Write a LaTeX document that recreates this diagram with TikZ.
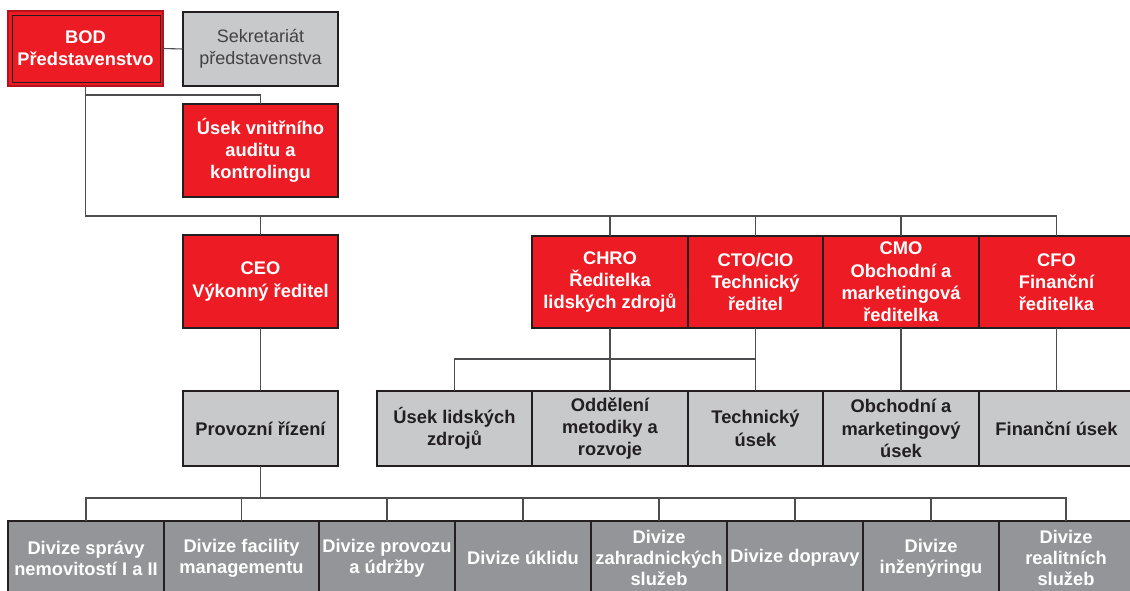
\documentclass[tikz,border=0pt]{standalone}
\usepackage{fontspec}
\setmainfont{Liberation Sans}
\definecolor{orgred}{HTML}{ED1C24}
\definecolor{darkred}{HTML}{B5121B}
\definecolor{lightgray}{HTML}{C8C9CB}
\definecolor{midgray}{HTML}{939598}
\definecolor{ink}{HTML}{231F20}
\definecolor{linegray}{HTML}{4D4D4F}
\newcommand\orgbox[7]{%
  \node[#1, minimum width={(#5-#3)*1pt}, minimum height={(#6-#4)*1pt}]
    (#2) at ({(#3+#5)/2},{(#4+#6)/2}) {#7};}
\begin{document}
\begin{tikzpicture}[x=1pt,y=-1pt,
  base/.style={rectangle, inner sep=0pt, outer sep=0pt, align=center,
    draw=ink, line width=1.1pt, font=\fontsize{18.3}{22.3}\selectfont\bfseries},
  redbox/.style={base, fill=orgred, text=white},
  graybox/.style={base, fill=lightgray, text=ink},
  secbox/.style={base, fill=lightgray, text=ink!85, font=\fontsize{18}{22}\selectfont},
  divbox/.style={base, fill=midgray, text=white, font=\fontsize{18.3}{21}\selectfont\bfseries},
  conn/.style={draw=linegray, line width=1.1pt}]
\useasboundingbox (0,0) rectangle (1130,591);
\fill[white] (0,0) rectangle (1130,591);

% top
\orgbox{redbox, draw=darkred, line width=1.4pt}{BOD}{8}{11}{163}{86}{BOD\\Představenstvo}
\draw[ink, line width=0.9pt] (12,15) rectangle (160,82);
\orgbox{secbox}{SEK}{183}{12}{338}{86}{Sekretariát\\představenstva}
\orgbox{redbox}{AUD}{183}{104}{338}{197}{Úsek vnitřního\\auditu a\\kontrolingu}

% second row
\orgbox{redbox}{CEO}{183}{235}{338}{328}{CEO\\Výkonný ředitel}
\orgbox{redbox}{CHRO}{532}{236}{688}{328}{CHRO\\Ředitelka\\lidských zdrojů}
\orgbox{redbox}{CTO}{688}{236}{823}{328}{CTO/CIO\\Technický\\ředitel}
\orgbox{redbox}{CMO}{823}{236}{979}{328}{CMO\\Obchodní a\\marketingová\\ředitelka}
\orgbox{redbox}{CFO}{979}{236}{1134}{328}{CFO\\Finanční\\ředitelka}

% third row
\orgbox{graybox}{PROV}{183}{391}{338}{466}{Provozní řízení}
\orgbox{graybox}{ULZ}{377}{391}{532}{466}{Úsek lidských\\zdrojů}
\orgbox{graybox}{OMR}{532}{391}{688}{466}{Oddělení\\metodiky a\\rozvoje}
\orgbox{graybox}{TU}{688}{391}{823}{466}{Technický\\úsek}
\orgbox{graybox}{OMU}{823}{391}{979}{466}{Obchodní a\\marketingový\\úsek}
\orgbox{graybox}{FU}{979}{391}{1134}{466}{Finanční úsek}

% bottom row
\orgbox{divbox}{D1}{8}{521}{164}{595}{Divize správy\\nemovitostí I a II}
\orgbox{divbox}{D2}{164}{521}{319}{595}{Divize facility\\managementu}
\orgbox{divbox}{D3}{319}{521}{455}{595}{Divize provozu\\a údržby}
\orgbox{divbox}{D4}{455}{521}{591}{595}{Divize úklidu}
\orgbox{divbox}{D5}{591}{521}{727}{595}{Divize\\zahradnických\\služeb}
\orgbox{divbox}{D6}{727}{521}{863}{595}{Divize dopravy}
\orgbox{divbox}{D7}{863}{521}{999}{595}{Divize\\inženýringu}
\orgbox{divbox}{D8}{999}{521}{1133}{595}{Divize\\realitních\\služeb}

% connectors
\coordinate (auy) at (0,95);
\coordinate (busy) at (0,216);
\coordinate (hry) at (0,359);
\coordinate (divy) at (0,498);
\draw[conn] (BOD.east) -- (SEK.west);
\draw[conn] (BOD.south |- auy) -| (AUD.north);
\draw[conn] (BOD.south) -- (BOD.south |- busy) -- (CFO.north |- busy) -- (CFO.north);
\foreach \n in {CEO,CHRO,CTO,CMO}{\draw[conn] (\n.north) -- (\n.north |- busy);}
\draw[conn] (CEO.south) -- (PROV.north);
\draw[conn] (CHRO.south) -- (OMR.north);
\draw[conn] (CTO.south) -- (TU.north);
\draw[conn] (CMO.south) -- (OMU.north);
\draw[conn] (CFO.south) -- (FU.north);
\draw[conn] (ULZ.north) -- (ULZ.north |- hry) -- (CTO.south |- hry);
\draw[conn] (PROV.south) -- (PROV.south |- divy);
\draw[conn] (D1.north) -- (D1.north |- divy) -- (D8.north |- divy) -- (D8.north);
\foreach \n in {D2,D3,D4,D5,D6,D7}{\draw[conn] (\n.north) -- (\n.north |- divy);}
\end{tikzpicture}
\end{document}
